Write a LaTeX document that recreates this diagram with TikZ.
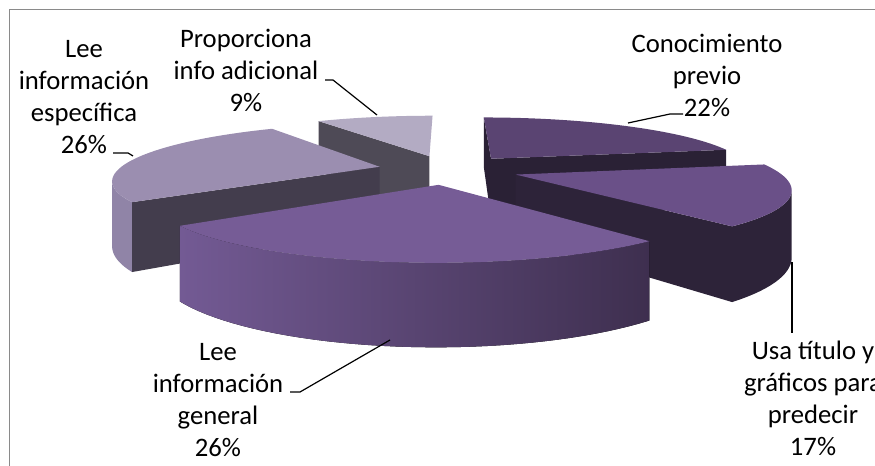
\documentclass[tikz,border=0pt]{standalone}
\usepackage{fontspec}
\setmainfont{Carlito}

\definecolor{framegray}{HTML}{8A8A8A}
\definecolor{propTop}{HTML}{B3ABC3}
\definecolor{propSide}{HTML}{4E4A56}
\definecolor{specTop}{HTML}{9B8EB0}
\definecolor{specWall}{HTML}{9084A7}
\definecolor{specSide}{HTML}{433D4D}
\definecolor{genTop}{HTML}{765C96}
\definecolor{genWallL}{HTML}{735A94}
\definecolor{genWallR}{HTML}{3E2F4F}
\definecolor{conTop}{HTML}{5A4472}
\definecolor{conSide}{HTML}{2A2135}
\definecolor{usaTop}{HTML}{6A5088}
\definecolor{usaSide}{HTML}{2D2339}

% perspective of the pie plane (u,v) -> picture pixels
\tikzset{
  declare function={
    px(\u,\v)=448+261*\u/(1+0.21*\v);
    py(\u,\v)=169.5-54*\v/(1+0.21*\v);
    pyb(\u,\v)=169.5+(62-54*\v)/(1+0.21*\v);
  },
  lbl/.style={align=center, inner sep=0pt, font=\fontsize{20}{24}\selectfont},
  leader/.style={black, line width=0.9pt},
}

% top face: offset u, offset v, from, to, colour
\newcommand{\pietop}[5]{%
  \fill[#5] ({px(#1,#2)},{py(#1,#2)}) -- plot[domain=#3:#4,samples=40]
    ({px(#1+cos(\x),#2+sin(\x))},{py(#1+cos(\x),#2+sin(\x))}) -- cycle;}
% outer wall
\newcommand{\piewall}[5]{%
  \fill[#5] plot[domain=#3:#4,samples=40]
    ({px(#1+cos(\x),#2+sin(\x))},{py(#1+cos(\x),#2+sin(\x))})
    -- plot[domain=#4:#3,samples=40]
    ({px(#1+cos(\x),#2+sin(\x))},{pyb(#1+cos(\x),#2+sin(\x))}) -- cycle;}
% radial side face
\newcommand{\pieside}[4]{%
  \fill[#4] ({px(#1,#2)},{py(#1,#2)})
    -- ({px(#1+cos(#3),#2+sin(#3))},{py(#1+cos(#3),#2+sin(#3))})
    -- ({px(#1+cos(#3),#2+sin(#3))},{pyb(#1+cos(#3),#2+sin(#3))})
    -- ({px(#1,#2)},{pyb(#1,#2)}) -- cycle;}

\begin{document}
\begin{tikzpicture}[x=0.75pt, y=-0.75pt]
    \useasboundingbox (0,0) rectangle (875,466);
    \draw[framegray, line width=1.2pt] (875,9.5) -- (9.5,9.5) -- (9.5,466);

    % Proporciona info adicional (9%)
    \pieside{-0.075}{0.259}{122.4}{propSide}
    \pietop{-0.075}{0.259}{90}{122.4}{propTop}

    % Conocimiento previo (22%)
    \pieside{0.172}{0.208}{90}{conSide}
    \pieside{0.172}{0.208}{10.8}{conSide}
    \pietop{0.172}{0.208}{10.8}{90}{conTop}

    % Lee informacion especifica (26%)
    \piewall{-0.265}{0.051}{194}{216}{specWall}
    \pieside{-0.265}{0.051}{216}{specSide}
    \pietop{-0.265}{0.051}{122.4}{216}{specTop}

    % Usa titulo y graficos (17%)
    \piewall{0.254}{-0.092}{-50.4}{-15}{usaSide}
    \pieside{0.254}{-0.092}{-50.4}{usaSide}
    \pietop{0.254}{-0.092}{-50.4}{10.8}{usaTop}

    % Lee informacion general (26%)
    \piewall{-0.034}{-0.268}{-144}{-50.4}{left color=genWallL, right color=genWallR}
    \pietop{-0.034}{-0.268}{-144}{-50.4}{genTop}

    % labels
    \node[lbl] (specLbl) at (84,97) {Lee\\información\\específica\\26\%};
    \node[lbl] (propLbl) at (246,70) {Proporciona\\info adicional\\9\%};
    \node[lbl] (conLbl) at (707,75) {Conocimiento\\previo\\22\%};
    \node[lbl] (usaLbl) at (813,398) {Usa título y\\gráficos para\\predecir\\17\%};
    \node[lbl] (genLbl) at (218,400) {Lee\\información\\general\\26\%};

    \coordinate (specA) at (113,153);
    \coordinate (specB) at (133,156);
    \coordinate (propA) at (325,80);
    \coordinate (propB) at (377,115);
    \coordinate (conA) at (683,114);
    \coordinate (conB) at (628,123);
    \coordinate (usaA) at (792,333);
    \coordinate (usaB) at (792,262);
    \coordinate (genA) at (290,392);
    \coordinate (genB) at (390,340);

    \draw[leader] (specA) -- ++(15,0) -- (specB);
    \draw[leader] (propA) -- ++(8,0) -- (propB);
    \draw[leader] (conA) -- ++(-13,0) -- (conB);
    \draw[leader] (usaA) -- (usaB);
    \draw[leader] (genA) -- ++(10,0) -- (genB);
\end{tikzpicture}
\end{document}
